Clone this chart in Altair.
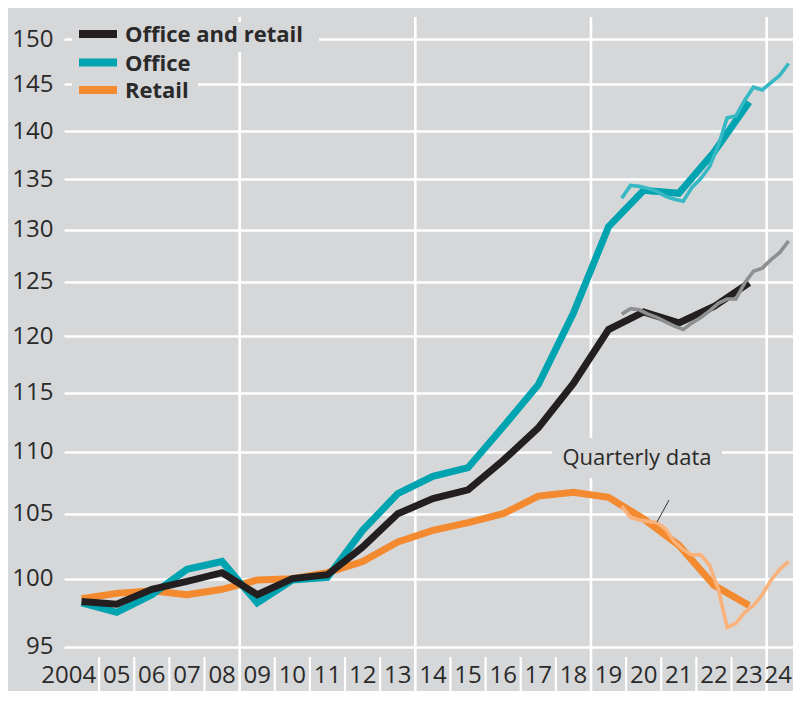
import altair as alt
import pandas as pd

# ---------------- data ----------------
years = list(range(2004, 2024))
office_retail = [98.3, 98.1, 99.2, 99.8, 100.45, 98.8, 100.0, 100.3, 102.4, 105.0,
                 106.2, 106.9, 109.3, 112.0, 115.8, 120.6, 122.2, 121.2, 122.7, 124.9]
office = [98.2, 97.5, 98.8, 100.7, 101.3, 98.2, 99.9, 100.1, 103.7, 106.6,
          108.0, 108.7, 112.1, 115.7, 122.1, 130.3, 133.9, 133.6, 137.8, 143.1]
retail = [98.5, 98.9, 99.1, 98.8, 99.2, 99.9, 100.0, 100.45, 101.3, 102.8,
          103.7, 104.3, 105.0, 106.4, 106.7, 106.3, 104.6, 102.55, 99.5, 98.0]

quarters = ["2019Q4", "2020Q1", "2020Q2", "2020Q3", "2020Q4", "2021Q1", "2021Q2",
            "2021Q3", "2021Q4", "2022Q1", "2022Q2", "2022Q3", "2022Q4", "2023Q1",
            "2023Q2", "2023Q3", "2023Q4", "2024Q1", "2024Q2", "2024Q3"]
office_retail_q = [122.0, 122.5, 122.4, 122.0, 121.7, 121.3, 120.9, 120.6, 121.2, 121.7,
                   122.3, 123.0, 123.4, 123.4, 124.9, 126.0, 126.3, 127.1, 127.8, 128.9]
office_q = [133.1, 134.4, 134.3, 134.1, 133.8, 133.3, 133.0, 132.8, 134.2, 135.1,
            136.3, 138.5, 141.4, 141.6, 143.3, 144.7, 144.4, 145.2, 146.0, 147.3]
retail_q = [105.6, 104.7, 104.5, 104.4, 104.3, 103.8, 102.8, 102.2, 101.8, 101.8,
            101.0, 99.2, 96.4, 96.7, 97.5, 98.0, 98.8, 99.9, 100.7, 101.3]

series_names = ["Office and retail", "Office", "Retail"]
year_labels = ["2004", "05", "06", "07", "08", "09", "10", "11", "12", "13", "14",
               "15", "16", "17", "18", "19", "20", "21", "22", "23", "24"]
y_ticks = [95, 100, 105, 110, 115, 120, 125, 130, 135, 140, 145, 150]
grid_years = [2009, 2014, 2019, 2024]
annotation_text = "Quarterly data"
leader = {"t": [2021.22], "v": [106.08], "t2": [2020.88], "v2": [104.35]}

# ---------------- styling ----------------
BG = "#d6d7d9"
TXT = "#2a2a2a"
FONT = "Open Sans"
C_ANNUAL = ["#231f20", "#00a3b0", "#f38a2f"]
C_QUART = ["#8e8f91", "#36b9c5", "#f9b27b"]
W, H = 729, 674

xscale = alt.Scale(domain=[2004, 2024.75], nice=False, zero=False)
yscale = alt.Scale(type="log", domain=[91.90, 152.54], nice=False)
yaxis = alt.Axis(values=y_ticks, format="d", grid=True, gridColor="white", gridWidth=2.7,
                 domain=False, ticks=False, tickSize=0, labelFont=FONT, labelFontSize=24,
                 labelColor=TXT, labelPadding=11, labelFlush=False, labelOverlap=False,
                 title=None)


def X(f="t"):
    return alt.X(f"{f}:Q", scale=xscale, axis=None)


def Y(f="v"):
    return alt.Y(f"{f}:Q", scale=yscale, axis=yaxis)


def qpos(q):
    return int(q[:4]) + (int(q[-1]) - 0.5) / 4


t_annual = [y + 0.5 for y in years]
t_quart = [qpos(q) for q in quarters]

layers = []

# vertical gridlines and year-boundary ticks
layers.append(alt.Chart(pd.DataFrame({"t": grid_years})).mark_rule(
    color="white", strokeWidth=2.6).encode(x=X(), y=alt.value(0), y2=alt.value(H)))
tick_years = [y for y in range(2005, 2024) if y not in grid_years]
layers.append(alt.Chart(pd.DataFrame({"t": tick_years})).mark_rule(
    color="white", strokeWidth=2.2).encode(x=X(), y=alt.value(640), y2=alt.value(H)))

# annual lines (retail bottom, then office, then office and retail)
annual_vals = [office_retail, office, retail]
for i in [2, 1, 0]:
    df = pd.DataFrame({"t": t_annual, "v": annual_vals[i]})
    layers.append(alt.Chart(df).mark_line(color=C_ANNUAL[i], strokeWidth=7,
                                          strokeCap="butt").encode(x=X(), y=Y()))

# quarterly lines
quart_vals = [office_retail_q, office_q, retail_q]
for i in [2, 1, 0]:
    df = pd.DataFrame({"t": t_quart, "v": quart_vals[i]})
    layers.append(alt.Chart(df).mark_line(color=C_QUART[i], strokeWidth=3.6,
                                          strokeCap="butt").encode(x=X(), y=Y()))

one = pd.DataFrame({"k": [0]})

# legend (background boxes hide gridlines)
layers.append(alt.Chart(one).mark_rect(color=BG).encode(
    x=alt.value(8), x2=alt.value(255), y=alt.value(5), y2=alt.value(35)))
layers.append(alt.Chart(one).mark_rect(color=BG).encode(
    x=alt.value(8), x2=alt.value(134), y=alt.value(32), y2=alt.value(87)))
row_y = [17, 45.5, 73]
for i, name in enumerate(series_names):
    layers.append(alt.Chart(one).mark_rule(color=C_ANNUAL[i], strokeWidth=8,
                                           strokeCap="butt").encode(
        x=alt.value(15), x2=alt.value(53), y=alt.value(row_y[i])))
    layers.append(alt.Chart(one).mark_text(
        text=name, align="left", baseline="middle", font=FONT, fontSize=22,
        fontWeight="bold", color=TXT).encode(x=alt.value(61), y=alt.value(row_y[i] + 1)))

# annotation
layers.append(alt.Chart(one).mark_rect(color=BG).encode(
    x=alt.value(488), x2=alt.value(658), y=alt.value(421), y2=alt.value(461)))
layers.append(alt.Chart(one).mark_text(
    text=annotation_text, align="center", baseline="middle", font=FONT, fontSize=22,
    color=TXT).encode(x=alt.value(573), y=alt.value(441)))
layers.append(alt.Chart(pd.DataFrame(leader)).mark_rule(color="#333333", strokeWidth=1).encode(
    x=X("t"), x2="t2:Q", y=Y("v"), y2="v2:Q"))

# year labels
lab_df = pd.DataFrame({"t": [int("20" + s) + 0.5 for s in year_labels[1:-1]],
                       "label": year_labels[1:-1]})
layers.append(alt.Chart(lab_df).mark_text(
    align="center", baseline="alphabetic", font=FONT, fontSize=24, color=TXT).encode(
    x=X(), y=alt.value(666), text="label:N"))
layers.append(alt.Chart(pd.DataFrame({"t": [2005], "label": [year_labels[0]]})).mark_text(
    align="right", baseline="alphabetic", font=FONT, fontSize=24, color=TXT, dx=-3).encode(
    x=X(), y=alt.value(666), text="label:N"))
layers.append(alt.Chart(pd.DataFrame({"t": [2024.5], "label": [year_labels[-1]]})).mark_text(
    align="center", baseline="alphabetic", font=FONT, fontSize=24, color=TXT, dx=-6).encode(
    x=X(), y=alt.value(666), text="label:N"))

chart = alt.layer(*layers).properties(
    width=W, height=H, background=BG,
    padding={"left": 56, "top": 9, "right": 0, "bottom": 0},
    autosize=alt.AutoSizeParams(type="none"),
).configure_view(fill=BG, stroke=None)

chart.save("out.html", embed_options={"renderer": "svg", "actions": False})
